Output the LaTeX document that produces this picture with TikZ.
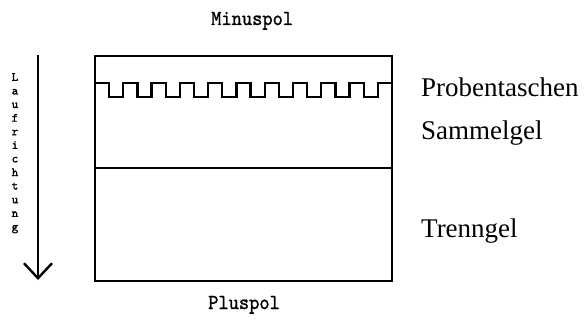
\documentclass[tikz,border=0pt]{standalone}
\usepackage{fontspec}
\setmainfont{Liberation Serif}
\newfontfamily\polfont[FakeBold=1.2]{lmmono10-regular.otf}
\newfontfamily\laufont[FakeBold=1.6]{lmmono10-regular.otf}
\usepackage{graphicx}
\usetikzlibrary{arrows.meta, positioning}

\newcommand{\tallmono}[1]{\scalebox{1}[1.1]{#1}}

\begin{document}
\begin{tikzpicture}[x=1pt, y=-1pt, line width=2.4pt,
    gellabel/.style={anchor=base west, inner sep=0pt, font=\fontsize{27}{30}\selectfont},
    pollabel/.style={anchor=base west, inner sep=0pt, font=\polfont\fontsize{19.5}{22}\selectfont},
    laufwort/.style={anchor=north, inner sep=0pt, align=center, font=\laufont\fontsize{12.5}{13.6}\selectfont},
    laufpfeil/.style={-{Straight Barb[length=15pt, width=28pt]}}]
            \useasboundingbox (0,0) rectangle (584,326);
            % Gel
            \coordinate (tl) at (95,56);
            \coordinate (br) at (392,281);
            \coordinate (trennl) at (95,168);
            \coordinate (trennr) at (392,168);
            \coordinate (kamm) at (95,83);
            \draw (tl) rectangle (br);
            \draw (trennl) -- (trennr);
            \draw (kamm) -- ++(297/21,0)
                \foreach \i in {1,...,10}{ -- ++(0,14) -- ++(297/21,0) -- ++(0,-14) -- ++(297/21,0)};
            % Laufrichtung
            \coordinate (pfeiloben) at (38,55);
            \coordinate (pfeilunten) at (38,280);
            \draw[laufpfeil] (pfeiloben) -- (pfeilunten);
            \node [laufwort] (lauf) at (15,72) {L\\a\\u\\f\\r\\i\\c\\h\\t\\u\\n\\g};
            % Beschriftung
            \node [pollabel] (minus) at (210,25) {\tallmono{Minuspol}};
            \node [pollabel] (plus) at (207,309) {\tallmono{Pluspol}};
            \node [gellabel] (taschen) at (420,97) {Probentaschen};
            \node [gellabel] (sammel) at (420,140) {Sammelgel};
            \node [gellabel] (trenn) at (420,237) {Trenngel};
\end{tikzpicture}
\end{document}
